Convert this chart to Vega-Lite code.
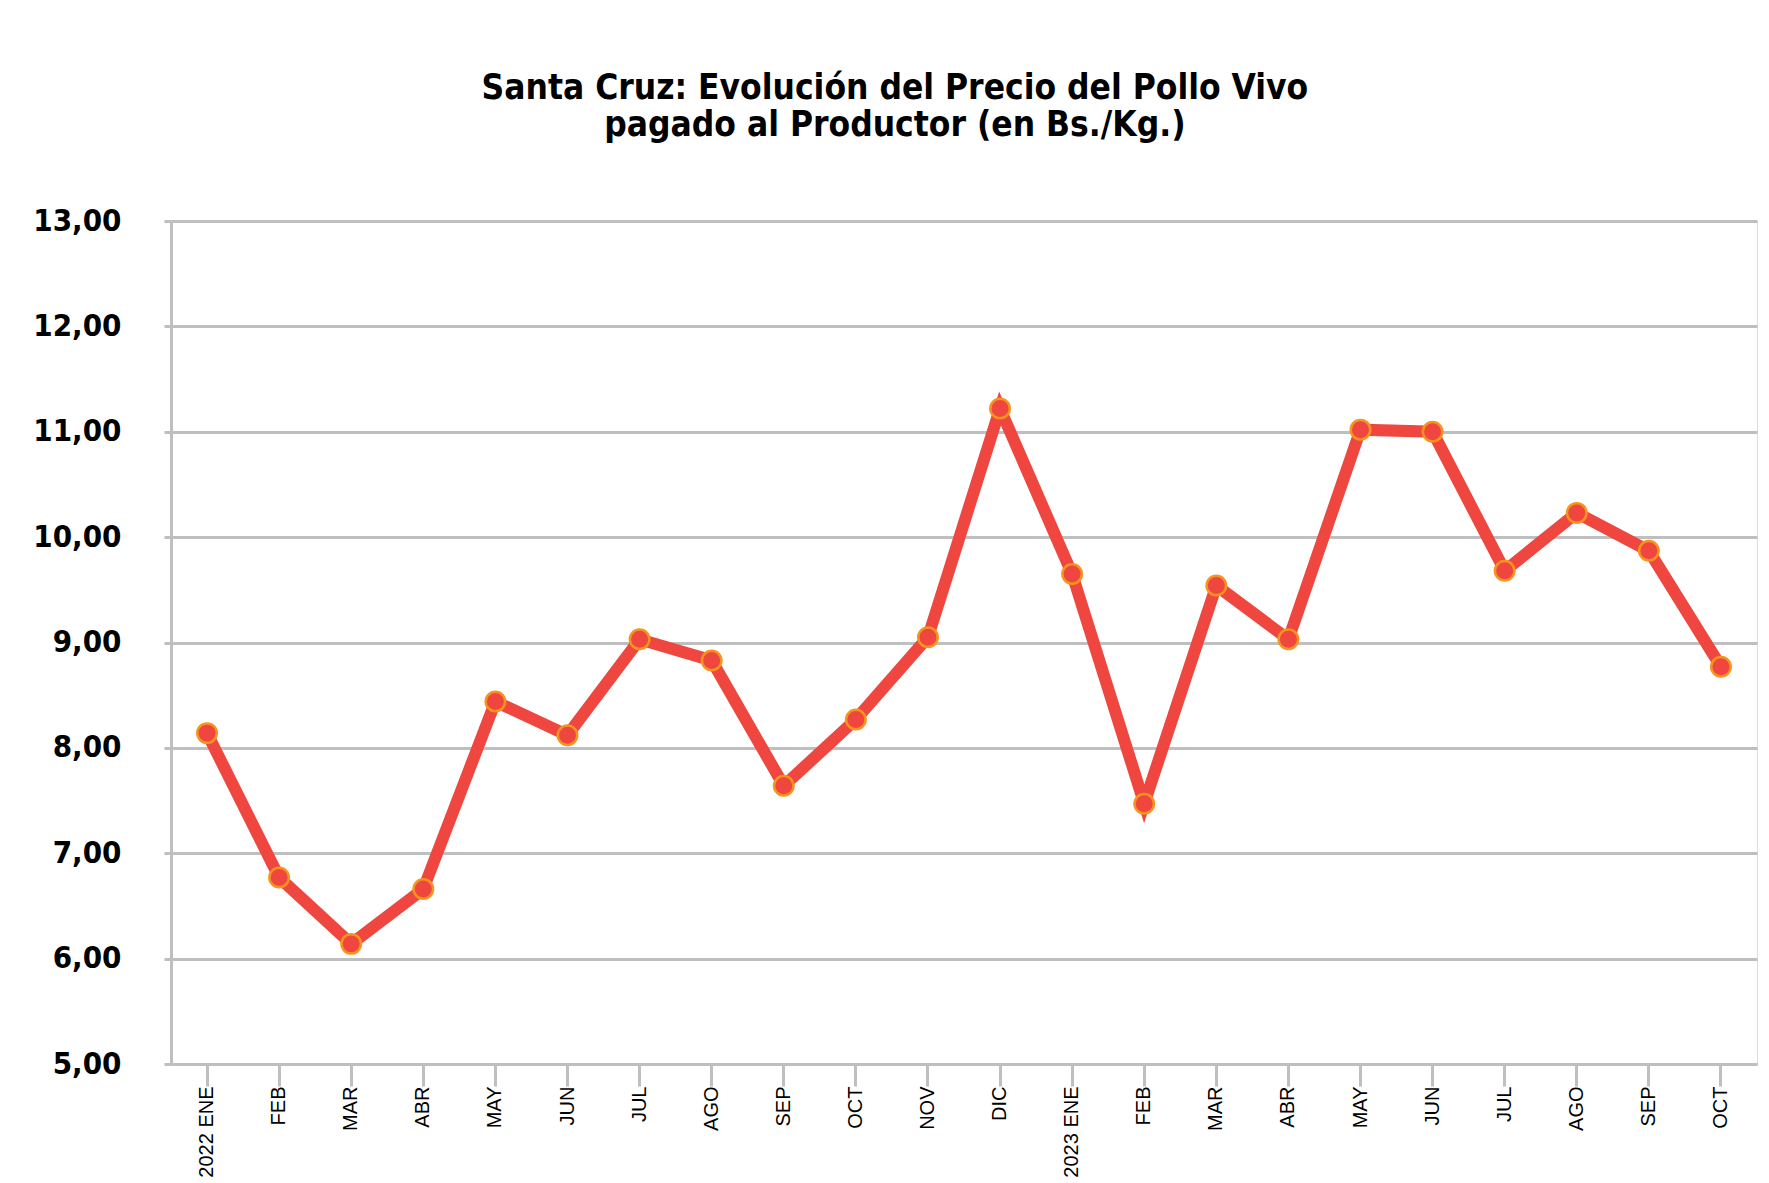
{
  "$schema": "https://vega.github.io/schema/vega-lite/v6.json",
  "width": 1586,
  "height": 843,
  "autosize": {"type": "none"},
  "padding": {"left": 171, "top": 221, "right": 12, "bottom": 119},
  "background": "white",
  "title": {
    "text": ["Santa Cruz: Evolución del Precio del Pollo Vivo", "pagado al Productor (en Bs./Kg.)"],
    "font": "DejaVu Sans Condensed",
    "fontWeight": "bold",
    "fontSize": 35,
    "color": "black",
    "anchor": "middle",
    "frame": "bounds",
    "offset": 62
  },
  "data": {
    "values": [
      {"periodo": "2022-01", "precio": 8.14},
      {"periodo": "2022-02", "precio": 6.77},
      {"periodo": "2022-03", "precio": 6.14},
      {"periodo": "2022-04", "precio": 6.66},
      {"periodo": "2022-05", "precio": 8.44},
      {"periodo": "2022-06", "precio": 8.12},
      {"periodo": "2022-07", "precio": 9.03},
      {"periodo": "2022-08", "precio": 8.83},
      {"periodo": "2022-09", "precio": 7.64},
      {"periodo": "2022-10", "precio": 8.27},
      {"periodo": "2022-11", "precio": 9.05},
      {"periodo": "2022-12", "precio": 11.22},
      {"periodo": "2023-01", "precio": 9.65},
      {"periodo": "2023-02", "precio": 7.47},
      {"periodo": "2023-03", "precio": 9.54},
      {"periodo": "2023-04", "precio": 9.03},
      {"periodo": "2023-05", "precio": 11.02},
      {"periodo": "2023-06", "precio": 11.0},
      {"periodo": "2023-07", "precio": 9.68},
      {"periodo": "2023-08", "precio": 10.23},
      {"periodo": "2023-09", "precio": 9.87},
      {"periodo": "2023-10", "precio": 8.77}
    ]
  },
  "mark": {
    "type": "line",
    "color": "#EF4640",
    "strokeWidth": 12,
    "point": {"filled": true, "fill": "#EF4640", "stroke": "#F7941D", "strokeWidth": 2.5, "size": 380}
  },
  "encoding": {
    "x": {
      "field": "periodo",
      "type": "ordinal",
      "scale": {"type": "band", "paddingInner": 0, "paddingOuter": 0},
      "axis": {
        "title": null,
        "grid": false,
        "tickSize": 22,
        "tickWidth": 3,
        "tickColor": "#BFBFBF",
        "domainColor": "#BFBFBF",
        "domainWidth": 3,
        "labelAngle": -90,
        "labelPadding": 0,
        "labelFont": "Liberation Sans",
        "labelFontSize": 20,
        "labelColor": "black",
        "labelExpr": "(slice(datum.value, 5) == '01' ? slice(datum.value, 0, 4) + ' ' : '') + ['ENE','FEB','MAR','ABR','MAY','JUN','JUL','AGO','SEP','OCT','NOV','DIC'][toNumber(slice(datum.value, 5)) - 1]"
      }
    },
    "y": {
      "field": "precio",
      "type": "quantitative",
      "scale": {"domain": [5, 13], "nice": false, "zero": false},
      "axis": {
        "title": null,
        "values": [5, 6, 7, 8, 9, 10, 11, 12, 13],
        "labelExpr": "replace(format(datum.value, '.2f'), '.', ',')",
        "labelFont": "DejaVu Sans Condensed",
        "labelFontWeight": "bold",
        "labelFontSize": 31,
        "labelColor": "black",
        "labelPadding": 43,
        "tickSize": 7,
        "tickWidth": 3,
        "tickColor": "#BFBFBF",
        "domainColor": "#BFBFBF",
        "domainWidth": 3,
        "gridColor": "#BFBFBF",
        "gridWidth": 3
      }
    }
  }
}
